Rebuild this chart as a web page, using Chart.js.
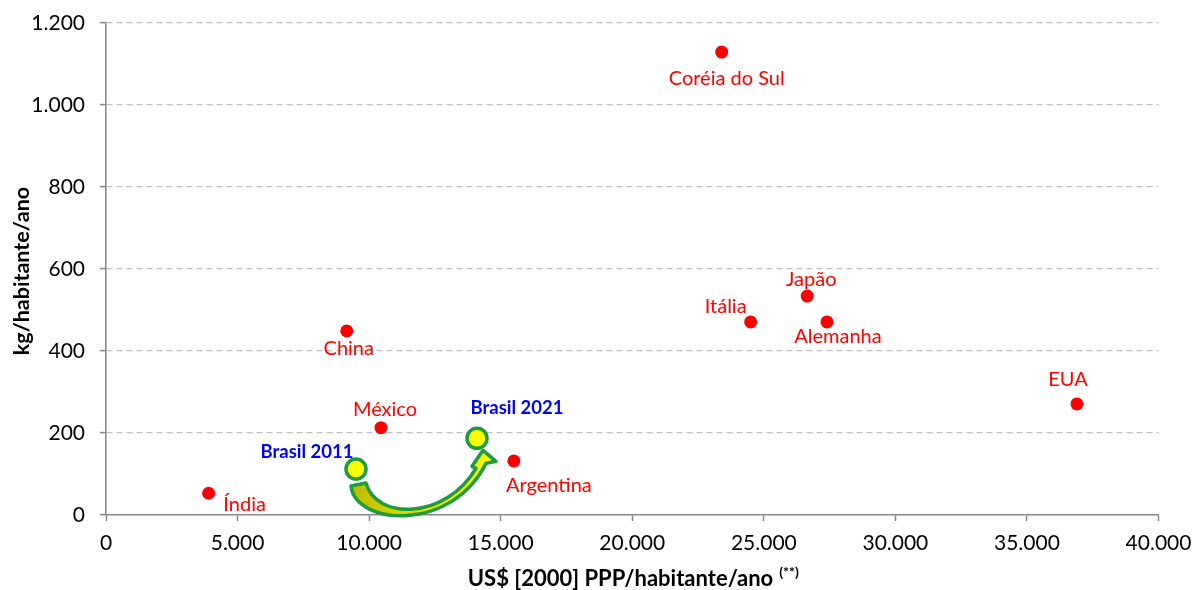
<!DOCTYPE html>
<html><head><meta charset="utf-8">
<script src="https://cdn.jsdelivr.net/npm/chart.js@4"></script>
<style>html,body{margin:0;padding:0;background:#fff}canvas{display:block}</style>
</head><body>
<canvas id="c" width="1192" height="590"></canvas>
<script>
// ---- data ----
const countries = ['Índia','China','México','Argentina','Coréia do Sul','Itália','Japão','Alemanha','EUA'];
const gdpPerCapita = [3900, 9150, 10450, 15500, 23400, 24500, 26650, 27400, 36900];
const consumption = [53, 449, 213, 132, 1129, 471, 534, 471, 271];
const brasilLabels = ['Brasil 2011','Brasil 2021'];
const brasilGdp = [9500, 14100];
const brasilConsumption = [112, 187];
const xTickValues = [0,5000,10000,15000,20000,25000,30000,35000,40000];
const yTickValues = [0,200,400,600,800,1000,1200];
const xTitle = 'US$ [2000] PPP/habitante/ano';
const xTitleSup = '(**)';
const yTitle = 'kg/habitante/ano';

// ---- styling (label offsets in px from point centre) ----
const countryLabelOffsets = [[36,11],[2,18],[4,-18],[35,25],[5,26],[-25,-15],[4,-17],[11,15],[-9,-24]];
const brasilLabelOffsets = [[-49,-17],[40,-30]];
const FONT = 'Lato, "Open Sans", sans-serif';

function fmt(v){ return String(v).replace(/\B(?=(\d{3})+(?!\d))/g,'.'); }

const labelPlugin = {
  id:'labels',
  beforeDatasetsDraw(chart){
    const m = chart.getDatasetMeta(1).data;
    if(!m || m.length<2) return;
    const p1 = {x:m[0].x, y:m[0].y}, p2 = {x:m[1].x, y:m[1].y};
    const ctx = chart.ctx;
    const P = (p,dx,dy)=>[p.x+dx,p.y+dy];
    const so = P(p1,-5,17), si = P(p1,10,14);
    const c1o = P(p1,0,57), c2o = P(p2,-25,94), no = P(p2,9,25);
    const br = P(p2,19,23), tip = P(p2,6,12), bl = P(p2,-5,28), ni = P(p2,-1,30);
    const c2i = P(p2,-32,82), c1i = P(p1,20,51);
    ctx.save();
    ctx.beginPath();
    ctx.moveTo(...so);
    ctx.bezierCurveTo(...c1o,...c2o,...no);
    ctx.lineTo(...br);
    ctx.lineTo(...tip);
    ctx.lineTo(...bl);
    ctx.lineTo(...ni);
    ctx.bezierCurveTo(...c2i,...c1i,...si);
    ctx.closePath();
    const g = ctx.createLinearGradient(so[0],0,br[0],0);
    g.addColorStop(0,'#bdbd00');
    g.addColorStop(0.5,'#e0e000');
    g.addColorStop(1,'#ffff00');
    ctx.fillStyle = g;
    ctx.fill();
    ctx.lineJoin='round';
    ctx.lineWidth = 3.5;
    ctx.strokeStyle = '#1e9b3e';
    ctx.stroke();
    ctx.restore();
  },
  afterDatasetsDraw(chart){
    const ctx = chart.ctx;
    ctx.save();
    ctx.textAlign='center';
    ctx.textBaseline='middle';
    ctx.font = '20px '+FONT;
    ctx.fillStyle = '#ff0000';
    chart.getDatasetMeta(0).data.forEach((pt,i)=>{
      const o = countryLabelOffsets[i];
      ctx.fillText(countries[i], pt.x+o[0], pt.y+o[1]);
    });
    ctx.font = 'bold 18.5px '+FONT;
    ctx.fillStyle = '#0000ff';
    chart.getDatasetMeta(1).data.forEach((pt,i)=>{
      const o = brasilLabelOffsets[i];
      ctx.fillText(brasilLabels[i], pt.x+o[0], pt.y+o[1]);
    });
    // axis titles
    ctx.fillStyle = '#000';
    const ca = chart.chartArea;
    ctx.font = 'bold 22px '+FONT;
    const w1 = ctx.measureText(xTitle).width;
    ctx.font = 'bold 14px '+FONT;
    const w2 = ctx.measureText(xTitleSup).width;
    const total = w1 + 6 + w2;
    const cx = (ca.left+ca.right)/2 + 1;
    const startX = cx - total/2;
    ctx.textAlign='left';
    ctx.font = 'bold 22px '+FONT;
    ctx.fillText(xTitle, startX, 579);
    ctx.font = 'bold 14px '+FONT;
    ctx.fillText(xTitleSup, startX + w1 + 6, 572);
    ctx.translate(22, (ca.top+ca.bottom)/2 + 2);
    ctx.rotate(-Math.PI/2);
    ctx.textAlign='center';
    ctx.font = 'bold 21.5px '+FONT;
    ctx.fillText(yTitle, 0, 0);
    ctx.restore();
  }
};

new Chart(document.getElementById('c'), {
  type:'scatter',
  data:{
    datasets:[
      { data: gdpPerCapita.map((x,i)=>({x, y:consumption[i]})),
        backgroundColor:'#ff0000', borderColor:'#ff0000', pointRadius:6.5, pointBorderWidth:0 },
      { data: brasilGdp.map((x,i)=>({x, y:brasilConsumption[i]})),
        backgroundColor:'#ffff00', borderColor:'#1e9b3e', pointRadius:10, pointBorderWidth:3.5 }
    ]
  },
  options:{
    responsive:false, animation:false,
    layout:{padding:{left:0, top:23, right:33.5, bottom:0}},
    plugins:{legend:{display:false}, tooltip:{enabled:false}},
    scales:{
      x:{
        type:'linear', min:0, max:40000,
        afterBuildTicks(s){ s.ticks = xTickValues.map(v=>({value:v})); },
        afterFit(s){ s.height = 75; s.paddingLeft = 0; s.paddingRight = 0; },
        ticks:{ callback:v=>fmt(v), font:{family:FONT, size:21}, color:'#000', padding:10, maxRotation:0, autoSkip:false },
        grid:{ drawOnChartArea:false, drawTicks:true, tickLength:6, tickColor:'#868686', tickWidth:1.5 },
        border:{ color:'#868686', width:1.5 }
      },
      y:{
        type:'linear', min:0, max:1200,
        afterBuildTicks(s){ s.ticks = yTickValues.map(v=>({value:v})); },
        afterFit(s){ s.width = 106; s.paddingTop = 0; s.paddingBottom = 0; },
        ticks:{ callback:v=>fmt(v), font:{family:FONT, size:21}, color:'#000', padding:15, autoSkip:false },
        grid:{ color:(c)=> c.tick && c.tick.value===0 ? 'rgba(0,0,0,0)' : '#bfbfbf', lineWidth:1.2, drawTicks:true, tickLength:6, tickColor:'#868686', tickWidth:1.5, tickBorderDash:[] },
        border:{ color:'#868686', width:1.5, dash:[6,4] }
      }
    }
  },
  plugins:[labelPlugin]
});
</script>
</body></html>
